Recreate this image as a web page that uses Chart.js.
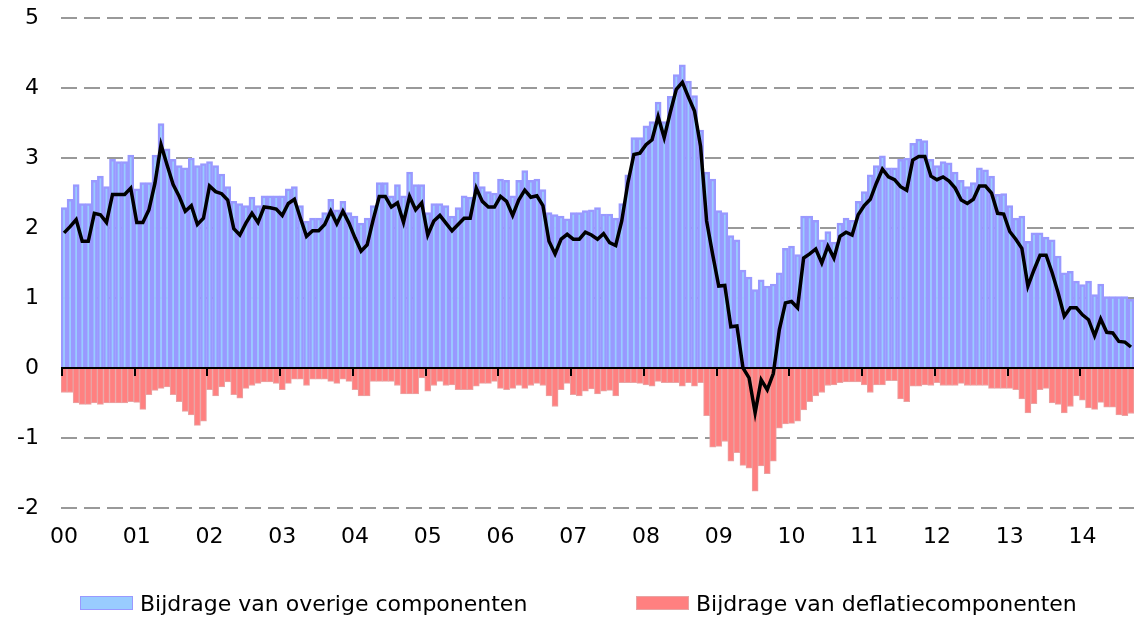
<!DOCTYPE html>
<html>
<head>
<meta charset="utf-8">
<script src="https://cdn.jsdelivr.net/npm/chart.js@4.4.1/dist/chart.umd.min.js"></script>
<style>
  body { margin: 0; background: #fff; }
  #wrap { position: relative; width: 1134px; height: 619px; }
  #legend { position: absolute; left: 0; top: 590px; width: 1134px; height: 26px;
            font-family: 'DejaVu Sans', sans-serif; font-size: 22px; color: #000; }
  .item { position: absolute; top: 0; display: flex; align-items: center; height: 26px; white-space: nowrap; }
  .box { width: 51px; height: 12px; margin-right: 7px; }
</style>
</head>
<body>
<div id="wrap">
  <canvas id="chart" width="1134" height="619"></canvas>
  <div id="legend"></div>
</div>
<script>
// years on the axis (one label per January)
const yearLabels = ['00','01','02','03','04','05','06','07','08','09','10','11','12','13','14'];

// bijdrage van overige componenten (monthly, jan 2000 - sep 2014)
const overig = [
  2.29, 2.41, 2.62, 2.35, 2.35, 2.68, 2.74, 2.59, 2.98, 2.95, 2.95, 3.04,
  2.56, 2.65, 2.65, 3.04, 3.49, 3.13, 2.98, 2.89, 2.86, 3.00, 2.89, 2.92,
  2.95, 2.89, 2.77, 2.59, 2.38, 2.35, 2.32, 2.44, 2.32, 2.46, 2.46, 2.46,
  2.46, 2.56, 2.59, 2.32, 2.10, 2.14, 2.14, 2.22, 2.41, 2.26, 2.38, 2.22,
  2.17, 2.07, 2.14, 2.32, 2.65, 2.65, 2.46, 2.62, 2.46, 2.80, 2.62, 2.62,
  2.22, 2.35, 2.35, 2.32, 2.17, 2.29, 2.46, 2.44, 2.80, 2.59, 2.52, 2.50,
  2.70, 2.68, 2.46, 2.68, 2.82, 2.68, 2.70, 2.55, 2.22, 2.19, 2.17, 2.13,
  2.22, 2.22, 2.25, 2.26, 2.29, 2.20, 2.20, 2.14, 2.35, 2.76, 3.29, 3.29,
  3.46, 3.52, 3.80, 3.52, 3.88, 4.19, 4.33, 4.10, 3.89, 3.40, 2.80, 2.70,
  2.25, 2.22, 1.89, 1.83, 1.40, 1.30, 1.12, 1.26, 1.17, 1.20, 1.36, 1.71,
  1.74, 1.62, 2.17, 2.17, 2.11, 1.83, 1.95, 1.80, 2.07, 2.14, 2.11, 2.38,
  2.52, 2.76, 2.89, 3.03, 2.86, 2.86, 2.98, 3.00, 3.21, 3.27, 3.25, 2.98,
  2.89, 2.95, 2.93, 2.80, 2.68, 2.59, 2.65, 2.86, 2.83, 2.74, 2.48, 2.49,
  2.32, 2.14, 2.17, 1.81, 1.93, 1.93, 1.87, 1.83, 1.60, 1.36, 1.38, 1.24,
  1.19, 1.24, 1.05, 1.20, 1.02, 1.02, 1.02, 1.02, 0.98
];

// bijdrage van deflatiecomponenten
const deflatie = [
  -0.35, -0.35, -0.50, -0.52, -0.52, -0.50, -0.52, -0.50, -0.50, -0.50, -0.50, -0.48,
  -0.49, -0.59, -0.38, -0.32, -0.29, -0.27, -0.38, -0.48, -0.62, -0.67, -0.82, -0.76,
  -0.31, -0.40, -0.27, -0.20, -0.38, -0.43, -0.29, -0.25, -0.22, -0.20, -0.20, -0.22,
  -0.31, -0.22, -0.16, -0.16, -0.25, -0.16, -0.16, -0.16, -0.19, -0.22, -0.16, -0.19,
  -0.31, -0.40, -0.40, -0.19, -0.19, -0.19, -0.19, -0.25, -0.37, -0.37, -0.37, -0.14,
  -0.33, -0.25, -0.19, -0.25, -0.24, -0.31, -0.31, -0.31, -0.26, -0.22, -0.22, -0.19,
  -0.29, -0.31, -0.29, -0.25, -0.29, -0.25, -0.22, -0.25, -0.40, -0.55, -0.31, -0.22,
  -0.38, -0.40, -0.33, -0.30, -0.37, -0.33, -0.32, -0.40, -0.21, -0.21, -0.21, -0.22,
  -0.24, -0.26, -0.19, -0.21, -0.21, -0.21, -0.26, -0.21, -0.26, -0.21, -0.68, -1.13,
  -1.12, -1.05, -1.33, -1.21, -1.39, -1.43, -1.76, -1.40, -1.51, -1.33, -0.86, -0.80,
  -0.79, -0.76, -0.60, -0.48, -0.40, -0.35, -0.25, -0.24, -0.21, -0.20, -0.20, -0.20,
  -0.24, -0.35, -0.24, -0.24, -0.18, -0.18, -0.44, -0.48, -0.26, -0.26, -0.24, -0.25,
  -0.21, -0.25, -0.25, -0.25, -0.22, -0.25, -0.25, -0.25, -0.25, -0.29, -0.29, -0.29,
  -0.29, -0.31, -0.44, -0.64, -0.51, -0.31, -0.29, -0.50, -0.52, -0.64, -0.55, -0.40,
  -0.46, -0.57, -0.59, -0.49, -0.56, -0.56, -0.67, -0.68, -0.65
];

// totale inflatie (zwarte lijn)
const totaal = [
  1.93, 2.02, 2.12, 1.81, 1.81, 2.21, 2.19, 2.08, 2.48, 2.48, 2.48, 2.57,
  2.08, 2.08, 2.26, 2.64, 3.19, 2.90, 2.62, 2.45, 2.24, 2.32, 2.05, 2.14,
  2.60, 2.52, 2.49, 2.40, 1.99, 1.90, 2.07, 2.21, 2.08, 2.30, 2.29, 2.27,
  2.18, 2.35, 2.41, 2.14, 1.88, 1.96, 1.96, 2.05, 2.24, 2.06, 2.24, 2.07,
  1.86, 1.67, 1.76, 2.12, 2.45, 2.45, 2.30, 2.36, 2.08, 2.45, 2.26, 2.36,
  1.90, 2.10, 2.18, 2.07, 1.96, 2.05, 2.14, 2.14, 2.57, 2.38, 2.30, 2.30,
  2.45, 2.38, 2.18, 2.40, 2.54, 2.44, 2.46, 2.32, 1.81, 1.63, 1.84, 1.91,
  1.84, 1.84, 1.94, 1.90, 1.84, 1.92, 1.79, 1.75, 2.10, 2.64, 3.05, 3.07,
  3.19, 3.26, 3.59, 3.29, 3.65, 3.98, 4.08, 3.87, 3.67, 3.17, 2.10, 1.62,
  1.17, 1.18, 0.59, 0.60, 0.00, -0.14, -0.64, -0.17, -0.31, -0.08, 0.55, 0.93,
  0.95, 0.86, 1.57, 1.63, 1.70, 1.50, 1.74, 1.57, 1.88, 1.94, 1.90, 2.19,
  2.32, 2.41, 2.64, 2.84, 2.73, 2.69, 2.59, 2.54, 2.97, 3.02, 3.02, 2.74,
  2.69, 2.73, 2.67, 2.57, 2.40, 2.35, 2.41, 2.60, 2.60, 2.50, 2.21, 2.20,
  1.95, 1.84, 1.71, 1.17, 1.40, 1.61, 1.61, 1.36, 1.07, 0.74, 0.86, 0.86,
  0.76, 0.69, 0.46, 0.70, 0.51, 0.50, 0.38, 0.37, 0.30
];

const yTicks = [-2, -1, 0, 1, 2, 3, 4, 5];

// one category per month, named by year
const months = [];
yearLabels.forEach(y => {
  for (let m = 1; m <= 12; m++) if (months.length < overig.length) months.push(y + '-' + m);
});

Chart.defaults.font.family = 'DejaVu Sans, Verdana, sans-serif';
Chart.defaults.font.size = 22;
Chart.defaults.color = '#000';

// black zero axis with small year ticks hanging below it
const zeroAxis = {
  id: 'zeroAxis',
  afterDatasetsDraw(chart) {
    const { ctx, chartArea, scales: { x, y } } = chart;
    const y0 = y.getPixelForValue(0);
    const half = (x.getPixelForValue(1) - x.getPixelForValue(0)) / 2;
    ctx.save();
    ctx.strokeStyle = '#000';
    ctx.lineWidth = 2;
    ctx.beginPath();
    ctx.moveTo(chartArea.left, y0);
    ctx.lineTo(chartArea.right, y0);
    for (let i = 0; i < months.length; i += 12) {
      const px = Math.round(x.getPixelForValue(i) - half) + 1;
      ctx.moveTo(px, y0);
      ctx.lineTo(px, y0 + 8);
    }
    ctx.stroke();
    ctx.restore();
  }
};

const chart = new Chart(document.getElementById('chart'), {
  type: 'bar',
  data: {
    labels: months,
    datasets: [
      {
        type: 'line',
        label: 'Totaal',
        data: totaal,
        borderColor: '#000',
        borderWidth: 3.5,
        pointRadius: 0,
        tension: 0,
        order: 0
      },
      {
        label: 'Bijdrage van overige componenten',
        data: overig,
        backgroundColor: '#99CCFF',
        borderColor: '#9999FF',
        borderWidth: 2.5,
        grouped: false,
        barPercentage: 1,
        categoryPercentage: 1,
        order: 1
      },
      {
        label: 'Bijdrage van deflatiecomponenten',
        data: deflatie,
        backgroundColor: '#FF8080',
        borderColor: '#E8A4A4',
        borderWidth: 1,
        grouped: false,
        barPercentage: 1,
        categoryPercentage: 1,
        order: 1
      }
    ]
  },
  options: {
    responsive: false,
    animation: false,
    layout: { padding: { top: 18, left: 0, right: 0, bottom: 0 } },
    plugins: {
      legend: { display: false },
      tooltip: { enabled: false }
    },
    scales: {
      x: {
        grid: { display: false },
        border: { display: false },
        ticks: {
          autoSkip: false,
          maxRotation: 0,
          padding: 8,
          callback: (v, i) => (i % 12 === 0 ? yearLabels[i / 12] : '')
        },
        afterFit: s => { s.height = 111; s.paddingLeft = 0; s.paddingRight = 0; }
      },
      y: {
        min: yTicks[0],
        max: yTicks[yTicks.length - 1],
        afterBuildTicks: s => { s.ticks = yTicks.map(v => ({ value: v })); },
        grid: {
          color: c => (c.tick && c.tick.value === 0 ? 'rgba(0,0,0,0)' : '#999999'),
          lineWidth: 2,
          drawTicks: false
        },
        border: { display: false, dash: [16, 7] },
        ticks: { padding: 22 },
        afterFit: s => { s.width = 61; s.paddingTop = 0; s.paddingBottom = 0; }
      }
    }
  },
  plugins: [zeroAxis]
});

// legend as html below the chart, built from the bar datasets
const legend = document.getElementById('legend');
const lefts = [80, 636];
chart.data.datasets.filter(d => d.type !== 'line').forEach((d, k) => {
  const item = document.createElement('div');
  item.className = 'item';
  item.style.left = lefts[k] + 'px';
  const box = document.createElement('span');
  box.className = 'box';
  box.style.background = d.backgroundColor;
  box.style.border = '1px solid ' + d.borderColor;
  item.appendChild(box);
  item.appendChild(document.createTextNode(d.label));
  legend.appendChild(item);
});
</script>
</body>
</html>
